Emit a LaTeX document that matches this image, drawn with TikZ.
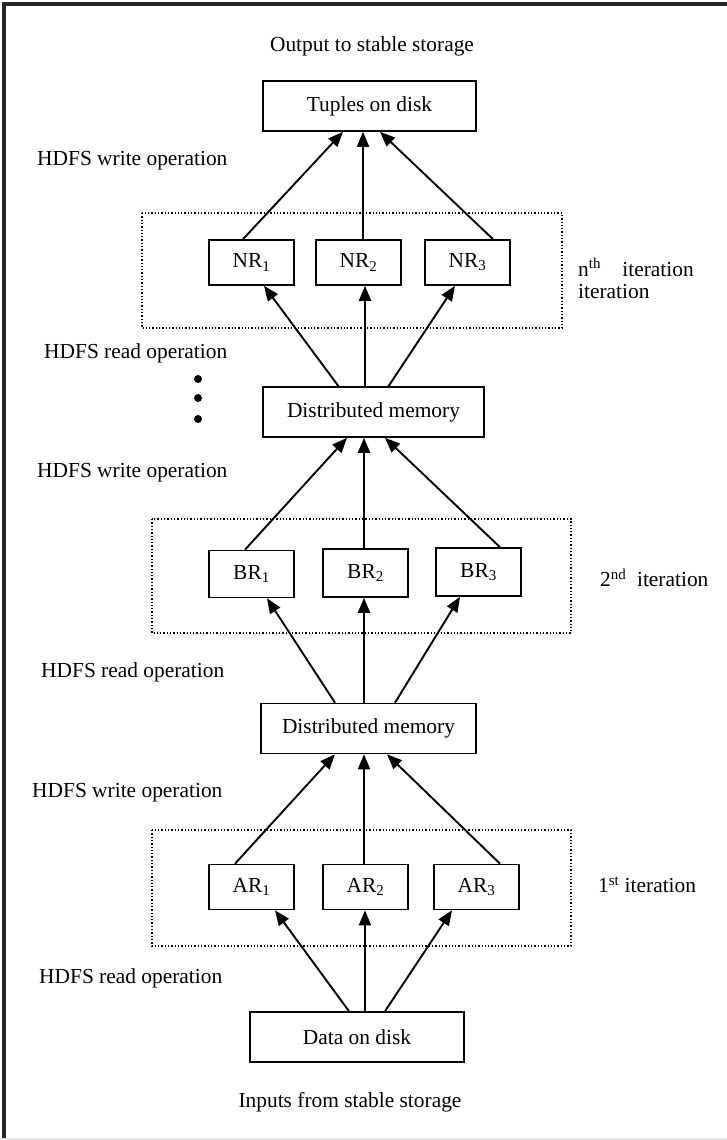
\documentclass[tikz,border=0pt]{standalone}
\usepackage{fontspec}
\setmainfont{Liberation Serif}
\usetikzlibrary{arrows.meta}

\begin{document}
\begin{tikzpicture}[x=1pt,y=-1pt,
  every node/.style={font=\fontsize{21.4}{22}\selectfont},
  blk/.style={draw, line width=1.6pt, inner sep=0pt},
  task/.style={blk, minimum width=85pt, minimum height=45pt},
  store/.style={blk, minimum height=50pt},
  iter/.style={dotted, line width=1.3pt},
  flow/.style={-{Triangle[length=15pt,width=12pt]}, line width=1.9pt},
  op/.style={anchor=west}]
\useasboundingbox (0,0) rectangle (727,1140);
\draw[line width=3.5pt, black!85] (4,1140) -- (4,4) -- (727,4);
\draw[line width=1.5pt, black!10] (0,1139) -- (727,1139);

% storage and memory
\node (title) at (372,46) {Output to stable storage};
\node[store, minimum width=213pt] (out) at (369.5,106) {Tuples on disk};
\node[store, minimum width=221pt] (dm1) at (373.5,412) {Distributed memory};
\node[store, minimum width=215pt] (dm2) at (368.5,728.5) {Distributed memory};
\node[store, minimum width=214pt] (in) at (357,1037) {Data on disk};
\node (src) at (350,1102) {Inputs from stable storage};

% iteration groups
\draw[iter] (142,213) rectangle (562,328);
\draw[iter] (152,519) rectangle (571,633);
\draw[iter] (152,830) rectangle (571,946);
\node[task] (nr1) at (251.5,262.5) {NR\textsubscript{1}};
\node[task] (nr2) at (358.5,262.5) {NR\textsubscript{2}};
\node[task] (nr3) at (467.5,262.5) {NR\textsubscript{3}};
\node[task, minimum height=47pt] (br1) at (251.5,574) {BR\textsubscript{1}};
\node[task, minimum height=48pt] (br2) at (365.5,573) {BR\textsubscript{2}};
\node[task, minimum height=48pt] (br3) at (478.5,572) {BR\textsubscript{3}};
\node[task] (ar1) at (251.5,887) {AR\textsubscript{1}};
\node[task] (ar2) at (365.5,887) {AR\textsubscript{2}};
\node[task] (ar3) at (476.5,887) {AR\textsubscript{3}};
\node[anchor=north west, align=left, inner sep=0pt] (itn) at (578,258) {n\textsuperscript{th}\quad iteration\\iteration};
\node[anchor=west, inner sep=0pt] (it2) at (600,578) {2\textsuperscript{nd}\ \ iteration};
\node[anchor=west, inner sep=0pt] (it1) at (598,885) {1\textsuperscript{st} iteration};

% operation labels
\node[op, inner sep=0pt] (w1) at (37,161) {HDFS write operation};
\node[op, inner sep=0pt] (r1) at (44,353) {HDFS read operation};
\node[op, inner sep=0pt] (w2) at (37,473) {HDFS write operation};
\node[op, inner sep=0pt] (r2) at (41,672) {HDFS read operation};
\node[op, inner sep=0pt] (w3) at (32,793) {HDFS write operation};
\node[op, inner sep=0pt] (r3) at (39,978) {HDFS read operation};
\foreach \y in {379,398,419}
  \fill (198,\y) circle (4pt);

% data flow
\draw[flow] ([xshift=-8.5pt]nr1.north) -- ([xshift=-26.5pt]out.south);
\draw[flow] ([xshift=4.5pt]nr2.north) -- ([xshift=-6.5pt]out.south);
\draw[flow] ([xshift=25.5pt]nr3.north) -- ([xshift=10.5pt]out.south);
\draw[flow] ([xshift=-35pt]dm1.north) -- ([xshift=12.5pt]nr1.south);
\draw[flow] ([xshift=-8.5pt]dm1.north) -- ([xshift=6.5pt]nr2.south);
\draw[flow] ([xshift=15pt]dm1.north) -- ([xshift=-12.5pt]nr3.south);
\draw[flow] ([xshift=-6.5pt]br1.north) -- ([xshift=-26.5pt]dm1.south);
\draw[flow] ([xshift=-1.5pt]br2.north) -- ([xshift=-9.5pt]dm1.south);
\draw[flow] ([xshift=21.5pt]br3.north) -- ([xshift=11.5pt]dm1.south);
\draw[flow] ([xshift=-33.5pt]dm2.north) -- ([xshift=15.5pt]br1.south);
\draw[flow] ([xshift=-4.5pt]dm2.north) -- ([xshift=-1.5pt]br2.south);
\draw[flow] ([xshift=26.5pt]dm2.north) -- ([xshift=-18.5pt]br3.south);
\draw[flow] ([xshift=-16.5pt]ar1.north) -- ([xshift=-33.5pt]dm2.south);
\draw[flow] ([xshift=-1.5pt]ar2.north) -- ([xshift=-4.5pt]dm2.south);
\draw[flow] ([xshift=23.5pt]ar3.north) -- ([xshift=18.5pt]dm2.south);
\draw[flow] ([xshift=-8pt]in.north) -- ([xshift=23.5pt]ar1.south);
\draw[flow] ([xshift=8pt]in.north) -- ([xshift=-0.5pt]ar2.south);
\draw[flow] ([xshift=28pt]in.north) -- ([xshift=-24.5pt]ar3.south);
\end{tikzpicture}
\end{document}
